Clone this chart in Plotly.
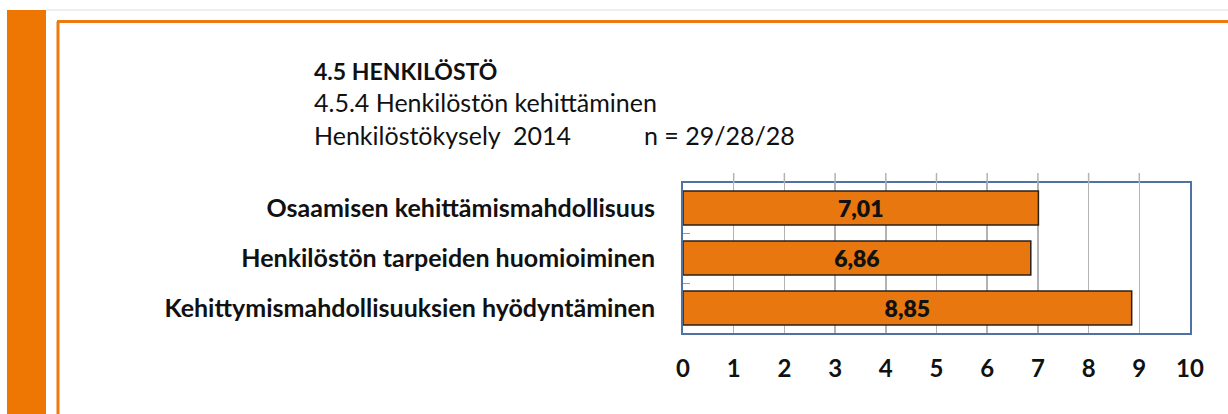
import plotly.graph_objects as go

categories = ["Osaamisen kehittämismahdollisuus",
              "Henkilöstön tarpeiden huomioiminen",
              "Kehittymismahdollisuuksien hyödyntäminen"]
values = [7.01, 6.86, 8.85]
tick_vals = list(range(0, 11))
title_main = "4.5 HENKILÖSTÖ"
title_sub = "4.5.4 Henkilöstön kehittäminen"
title_survey = "Henkilöstökysely  2014"
title_n = "n = 29/28/28"

W, H = 1228, 414
FONT = "Lato"
ORANGE = "#EC7A0E"


def px(x):
    return x / W


def py(y):
    return 1 - y / H


fig = go.Figure()
fig.add_trace(go.Bar(
    x=values, y=categories, orientation="h",
    marker=dict(color="#E8770F", line=dict(color="#2b2118", width=1.5)),
    texttemplate="%{x:.2f}", textposition="inside", insidetextanchor="middle",
    textfont=dict(family=FONT, size=23, color="#111111", weight=800),
    hoverinfo="skip",
))

x_dom = [px(683), px(1190)]
y_dom = [py(333), py(183)]

fig.update_layout(
    width=W, height=H,
    margin=dict(l=0, r=0, t=0, b=0, pad=0),
    paper_bgcolor="white", plot_bgcolor="white",
    separators=",.",
    bargap=0.32,
    showlegend=False,
    font=dict(family=FONT, color="#111111"),
    xaxis=dict(domain=x_dom, range=[0, 10], tickvals=tick_vals,
               showgrid=True, gridcolor="#b3b3b3", gridwidth=1.5,
               showline=True, mirror=True, linecolor="#4f71a3", linewidth=2,
               zeroline=False, ticks="", automargin=False,
               tickfont=dict(family=FONT, size=24, weight="bold", color="#111111"),
               ticklabelstandoff=13, fixedrange=True),
    yaxis=dict(domain=y_dom, type="category", autorange="reversed",
               showgrid=False, showline=True, mirror=True,
               linecolor="#4f71a3", linewidth=2, automargin=False,
               ticks="inside", tickson="boundaries", ticklen=7,
               tickcolor="#9a9a9a",
               tickfont=dict(family=FONT, size=25, weight="bold", color="#111111"),
               ticklabelstandoff=21, fixedrange=True),
)

shapes = []
# left orange side band
shapes.append(dict(type="rect", xref="paper", yref="paper",
                   x0=px(7), x1=px(46), y0=0, y1=py(10),
                   fillcolor="#EE7703", line=dict(width=0), layer="below"))
# thin gray line at top
shapes.append(dict(type="line", xref="paper", yref="paper",
                   x0=px(46), x1=1, y0=py(10), y1=py(10),
                   line=dict(color="#eceef2", width=2)))
# orange frame
shapes.append(dict(type="line", xref="paper", yref="paper",
                   x0=px(57), x1=1, y0=py(21.5), y1=py(21.5),
                   line=dict(color=ORANGE, width=3)))
shapes.append(dict(type="line", xref="paper", yref="paper",
                   x0=px(58), x1=px(58), y0=0, y1=py(21.5),
                   line=dict(color=ORANGE, width=3)))
# gridline stubs above plot area
for v in tick_vals[1:-1]:
    shapes.append(dict(type="line", xref="x", yref="paper",
                       x0=v, x1=v, y0=py(183), y1=py(173),
                       line=dict(color="#b3b3b3", width=1.5)))
fig.update_layout(shapes=shapes)

annotations = [
    dict(text="<b>" + title_main + "</b>", x=px(312), y=py(71), size=23),
    dict(text=title_sub, x=px(312), y=py(102), size=25),
    dict(text=title_survey, x=px(312), y=py(135), size=25),
    dict(text=title_n, x=px(642), y=py(135), size=25),
]
for a in annotations:
    fig.add_annotation(text=a["text"], x=a["x"], y=a["y"], xref="paper", yref="paper",
                       xanchor="left", yanchor="middle", showarrow=False,
                       font=dict(family=FONT, size=a["size"], color="#111111"))

fig.write_html("out.html",
               config={"displayModeBar": False, "staticPlot": True},
               post_script="document.body.style.margin='0';document.body.style.overflow='hidden';")
